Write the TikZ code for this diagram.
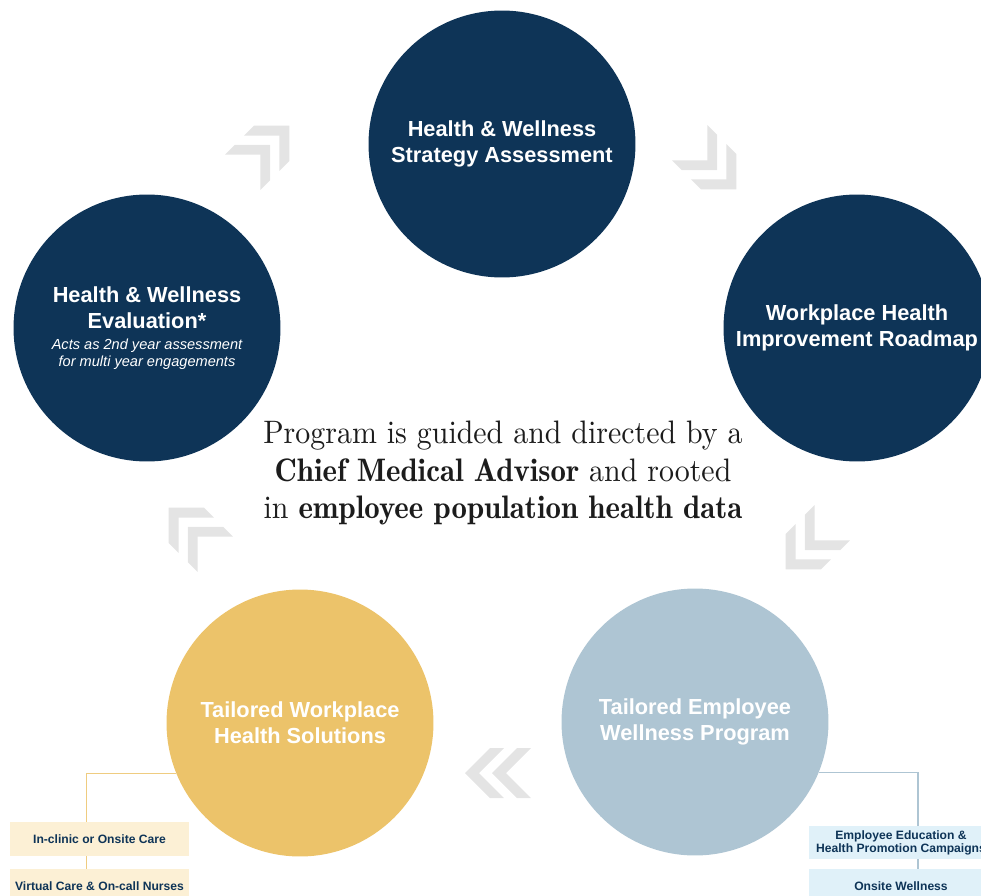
\documentclass[tikz,border=0pt]{standalone}
\usepackage{fontspec}
\setsansfont{Liberation Sans}
\newfontfamily\didone{lmroman10-regular.otf}[BoldFont=lmromandemi10-regular.otf, FakeStretch=0.92,
  BoldFeatures={FakeStretch=0.95}]

\definecolor{navy}{RGB}{14,52,87}
\definecolor{mustard}{RGB}{236,195,106}
\definecolor{steel}{RGB}{174,197,211}
\definecolor{cream}{RGB}{252,240,213}
\definecolor{ice}{RGB}{224,241,249}
\definecolor{chevron}{RGB}{228,228,228}
\definecolor{ink}{RGB}{28,28,28}

\newcommand\evalnote[1]{{\mdseries\itshape\fontsize{8.3}{9.6}\selectfont #1}}

\begin{document}
\begin{tikzpicture}[x=0.02cm, y=-0.02cm, % pixel grid, y going down
  stage/.style={shape=circle, minimum size=5.34cm, inner sep=0pt, text=white, align=center,
    font=\sffamily\bfseries\fontsize{12.4}{14.7}\selectfont},
  item/.style={minimum height=0.68cm, inner sep=0pt, text=navy, align=center,
    font=\sffamily\bfseries\fontsize{6.9}{7.4}\selectfont},
  link/.style={line width=0.6pt}]
  \useasboundingbox (0,0) rectangle (981,896);

  % double chevrons between the stages
  \foreach \x/\y/\a in {266/149/45, 713/166/-45, 809/546/-135, 192/531/135, 498/773/180}
    \foreach \d in {33,6}
      \fill[chevron, shift={(\x,\y)}, rotate=\a] (\d,0) -- (\d-25,25) -- (\d-39,25) -- (\d-14,0)
        -- (\d-39,-25) -- (\d-25,-25) -- cycle;

  \node[stage, fill=navy] (assess) at (502,144) {Health \& Wellness\\Strategy Assessment};
  \node[stage, fill=navy] (roadmap) at (857,328) {Workplace Health\\Improvement Roadmap};
  \node[stage, fill=steel] (program) at (695,722) {Tailored Employee\\Wellness Program};
  \node[stage, fill=mustard] (solutions) at (300,723) {Tailored Workplace\\Health Solutions};
  \node[stage, fill=navy] (evaluation) at (147,328) {Health \& Wellness\\Evaluation*\\[-3pt]
    \evalnote{Acts as 2nd year assessment}\\[-5pt]\evalnote{for multi year engagements}};

  \node[text=ink, align=center, font=\didone\fontsize{18.5}{21.5}\selectfont] (note) at (503,473)
    {Program is guided and directed by a\\\textbf{Chief Medical Advisor} and rooted\\in \textbf{employee population health data}};

  \node[item, fill=cream, minimum width=3.58cm] (clinic) at (99.5,839) {In-clinic or Onsite Care};
  \node[item, fill=cream, minimum width=3.58cm] (virtual) at (99.5,886) {Virtual Care \& On-call Nurses};
  \node[item, fill=ice, minimum width=3.68cm, minimum height=0.66cm] (education) at (901,842.5)
    {Employee Education \&\\Health Promotion Campaigns};
  \node[item, fill=ice, minimum width=3.68cm] (onsite) at (901,886) {Onsite Wellness};

  \draw[link, mustard!85] (solutions.202) -| ([xshift=-0.26cm]clinic.north);
  \draw[link, mustard!85] ([xshift=-0.26cm]clinic.south) -- ([xshift=-0.26cm]virtual.north);
  \draw[link, steel] (program.338) -| ([xshift=0.34cm]education.north);
  \draw[link, steel] ([xshift=0.34cm]education.south) -- ([xshift=0.34cm]onsite.north);
\end{tikzpicture}
\end{document}
